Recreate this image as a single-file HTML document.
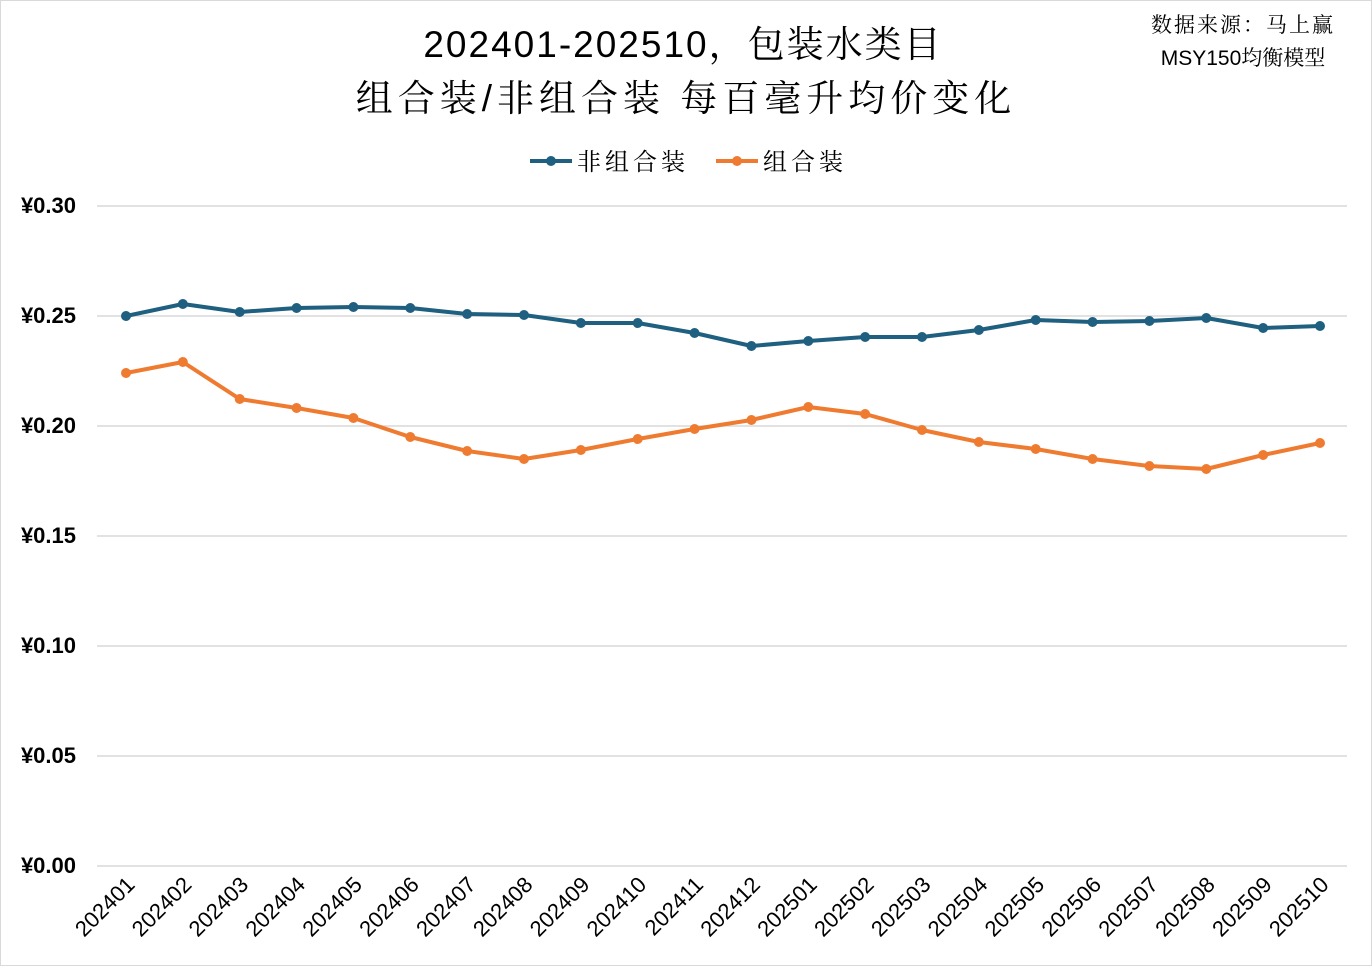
<!DOCTYPE html>
<html><head><meta charset="utf-8"><style>
body{margin:0;background:#fff}
svg{display:block}
text{font-family:"Liberation Sans","Noto Serif CJK SC",serif}
</style></head><body>
<svg width="1372" height="966" xmlns="http://www.w3.org/2000/svg">
<rect x="0.5" y="0.5" width="1371" height="965" fill="#fff" stroke="#d9d9d9"/>
<text x="683" y="57" font-size="37" text-anchor="middle" fill="#000" letter-spacing="2">202401-202510，包装水类目</text>
<text x="686" y="111" font-size="37" text-anchor="middle" fill="#000" letter-spacing="5">组合装/非组合装 每百毫升均价变化</text>
<text x="1243" y="32" font-size="21" text-anchor="middle" fill="#000" letter-spacing="2">数据来源：马上赢</text>
<text x="1243" y="65" font-size="21" text-anchor="middle" fill="#000">MSY150均衡模型</text>
<line x1="530" y1="161" x2="572" y2="161" stroke="#1f5f80" stroke-width="4"/><circle cx="551" cy="161" r="5" fill="#1f5f80"/>
<text x="577" y="170" font-size="24" fill="#000" letter-spacing="4">非组合装</text>
<line x1="716" y1="161" x2="758" y2="161" stroke="#ef7b31" stroke-width="4"/><circle cx="737" cy="161" r="5" fill="#ef7b31"/>
<text x="763" y="170" font-size="24" fill="#000" letter-spacing="4">组合装</text>
<g stroke="#d9d9d9" stroke-width="1.5">
<line x1="97" y1="206" x2="1347" y2="206"/><line x1="97" y1="316" x2="1347" y2="316"/>
<line x1="97" y1="426" x2="1347" y2="426"/><line x1="97" y1="536" x2="1347" y2="536"/>
<line x1="97" y1="646" x2="1347" y2="646"/><line x1="97" y1="756" x2="1347" y2="756"/>
<line x1="97" y1="866" x2="1347" y2="866"/></g>
<g font-size="22" font-weight="bold" fill="#000" text-anchor="end">
<text x="76" y="213">¥0.30</text><text x="76" y="323">¥0.25</text><text x="76" y="433">¥0.20</text>
<text x="76" y="543">¥0.15</text><text x="76" y="653">¥0.10</text><text x="76" y="763">¥0.05</text><text x="76" y="873">¥0.00</text></g>
<g id="lines"></g>
<g id="xl" font-size="22" fill="#000" text-anchor="end"></g>
</svg>
<script>
var b=[316,304,312,308,307,308,314,315,323,323,333,346,341,337,337,330,320,322,321,318,328,326];
var o=[373,362,399,408,418,437,451,459,450,439,429,420,407,414,430,442,449,459,466,469,455,443];
var labs=[];for(var y of [2024,2025])for(var m=1;m<=12;m++){if(y==2025&&m>10)break;labs.push(y+(m<10?"0":"")+m);}
var ns="http://www.w3.org/2000/svg",g=document.getElementById("lines"),xl=document.getElementById("xl");
function X(i){return 126+i*56.857;}
function draw(d,c){var p=d.map((v,i)=>X(i)+","+v).join(" ");var l=document.createElementNS(ns,"polyline");
l.setAttribute("points",p);l.setAttribute("fill","none");l.setAttribute("stroke",c);l.setAttribute("stroke-width","4");l.setAttribute("stroke-linejoin","round");g.appendChild(l);
d.forEach((v,i)=>{var ci=document.createElementNS(ns,"circle");ci.setAttribute("cx",X(i));ci.setAttribute("cy",v);ci.setAttribute("r","5");ci.setAttribute("fill",c);g.appendChild(ci);});}
draw(b,"#1f5f80");draw(o,"#ef7b31");
labs.forEach((s,i)=>{var t=document.createElementNS(ns,"text");var x=X(i)+10,y=886;t.setAttribute("x",x);t.setAttribute("y",y);t.setAttribute("transform","rotate(-45 "+x+" "+y+")");t.textContent=s;xl.appendChild(t);});
</script>
</body></html>
